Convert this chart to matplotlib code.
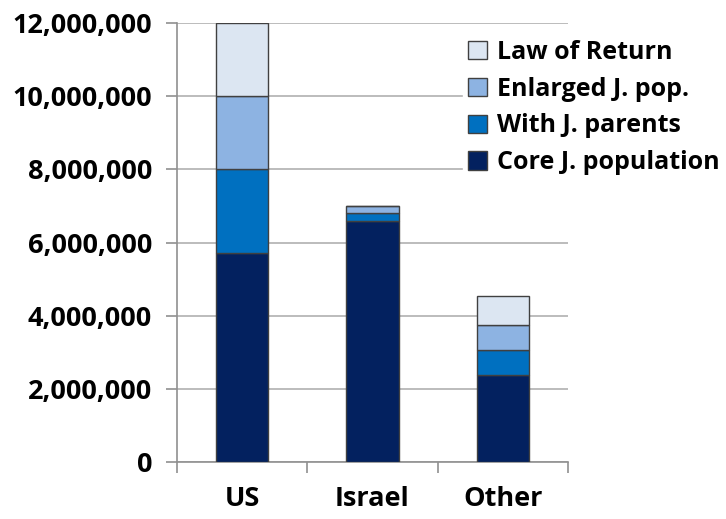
import numpy as np
import matplotlib.pyplot as plt
from matplotlib.ticker import FuncFormatter

# Data
regions = ['US', 'Israel', 'Other']
core = [5700000, 6600000, 2380000]
with_parents = [2300000, 200000, 680000]
enlarged = [2000000, 190000, 680000]
law_of_return = [2000000, 0, 800000]

series = [
    ('Core J. population', core, '#03215f'),
    ('With J. parents', with_parents, '#0070c0'),
    ('Enlarged J. pop.', enlarged, '#8db3e2'),
    ('Law of Return', law_of_return, '#dce6f2'),
]

plt.rcParams['font.family'] = ['Open Sans', 'DejaVu Sans']
plt.rcParams['font.weight'] = 'bold'

fig = plt.figure(figsize=(7.26, 5.19), dpi=100)
ax = fig.add_axes([177 / 726, 1 - 462 / 519, 391 / 726, 439 / 519])

x = np.arange(len(regions))
bottom = np.zeros(len(regions))
handles = []
for label, vals, color in series:
    b = ax.bar(x, vals, 0.4, bottom=bottom, color=color, edgecolor='#404040',
               linewidth=1.0, label=label, zorder=3)
    handles.append(b)
    bottom += np.array(vals)

ax.set_xlim(-0.5, 2.5)
ax.set_ylim(0, 12000000)
ax.set_yticks(np.arange(0, 12000001, 2000000))
ax.yaxis.set_major_formatter(FuncFormatter(lambda v, p: f'{int(v):,}'))
ax.set_xticks(x)
ax.set_xticklabels(regions)
ax.set_xticks([-0.5, 0.5, 1.5, 2.5], minor=True)

ax.grid(axis='y', color='#b0b0b0', linewidth=1.2, zorder=0)
for s in ['top', 'right']:
    ax.spines[s].set_visible(False)
for s in ['left', 'bottom']:
    ax.spines[s].set_color('#909090')
    ax.spines[s].set_linewidth(1.2)

ax.tick_params(axis='y', length=8, color='#909090', width=1.2, labelsize=19.5, pad=10)
ax.tick_params(axis='x', which='major', length=0, labelsize=19.5, pad=17)
ax.tick_params(axis='x', which='minor', length=8, color='#909090', width=1.2)

leg = ax.legend(handles[::-1], [s[0] for s in series[::-1]],
                loc='upper left', bbox_to_anchor=(463 / 726, 1 - 35 / 519),
                bbox_transform=fig.transFigure, fontsize=18, frameon=True,
                facecolor='white', edgecolor='white', framealpha=1,
                handlelength=0.75, handleheight=0.75, handletextpad=0.4,
                labelspacing=0.47, borderaxespad=0, borderpad=0.2)
leg.set_zorder(5)

plt.savefig('out.png', dpi=100)
